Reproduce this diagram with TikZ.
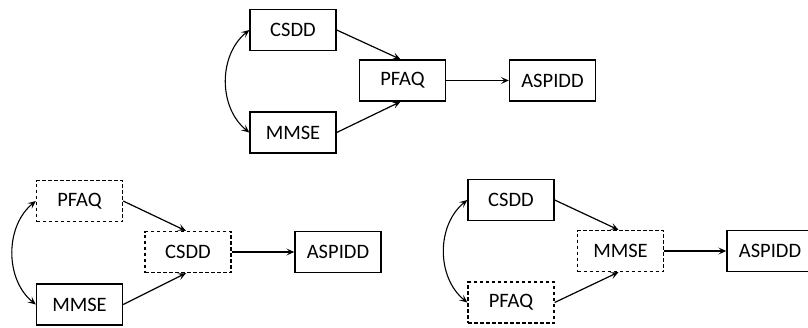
\documentclass[tikz,border=0pt]{standalone}
\usepackage{fontspec}
\setmainfont{Carlito}
\usetikzlibrary{arrows.meta}
\begin{document}
\begin{tikzpicture}[x=1pt,y=-1pt,
  box/.style={draw=black, line width=1.4pt, minimum width=86pt, minimum height=41pt,
    inner sep=0pt, font=\fontsize{20.5}{22}\selectfont, text=black},
  dbox/.style={box, line width=1.3pt, dash pattern=on 3.5pt off 2.5pt},
  tip/.style={Stealth[length=8pt,width=7pt,inset=3.5pt]},
  link/.style={line width=1.2pt, draw=black, -{Stealth[length=8pt,width=7pt,inset=3.5pt]}},
  cov/.style={line width=1.1pt, draw=black, {Stealth[length=8pt,width=7pt,inset=3.5pt]}-{Stealth[length=8pt,width=7pt,inset=3.5pt]}}]
\useasboundingbox (0,0) rectangle (808,327);

% upper model: PFAQ as mediator
\node[box] (t1) at (293,30) {CSDD};
\node[box] (t2) at (293,132.5) {MMSE};
\node[box] (t3) at (402.5,80.5) {PFAQ};
\node[box] (t4) at (552.5,80.5) {ASPIDD};
\draw[link] (t1.east) -- ([xshift=-2pt]t3.north);
\draw[link] (t2.east) -- ([xshift=-2pt]t3.south);
\draw[link] (t3) -- (t4);
\draw[cov] (t1.west) .. controls +(-31,25) and +(-31,-25) .. (t2.west);

% lower left model: CSDD as mediator
\node[dbox] (l1) at (79.5,201) {PFAQ};
\node[box] (l2) at (79.5,304.5) {MMSE};
\node[dbox] (l3) at (188,252) {CSDD};
\node[box] (l4) at (338,252) {ASPIDD};
\draw[link] (l1.east) -- ([xshift=-2pt]l3.north);
\draw[link] (l2.east) -- ([xshift=-2pt]l3.south);
\draw[link] (l3) -- (l4);
\draw[cov] (l1.west) .. controls +(-31,25) and +(-31,-25) .. (l2.west);

% lower right model: MMSE as mediator
\node[box] (r1) at (511,200) {CSDD};
\node[dbox] (r2) at (511,302.5) {PFAQ};
\node[dbox] (r3) at (620.5,251) {MMSE};
\node[box] (r4) at (770,251) {ASPIDD};
\draw[link] (r1.east) -- ([xshift=-2pt]r3.north);
\draw[link] (r2.east) -- ([xshift=-2pt]r3.south);
\draw[link] (r3) -- (r4);
\draw[cov] (r1.west) .. controls +(-31,25) and +(-31,-25) .. (r2.west);
\end{tikzpicture}
\end{document}
